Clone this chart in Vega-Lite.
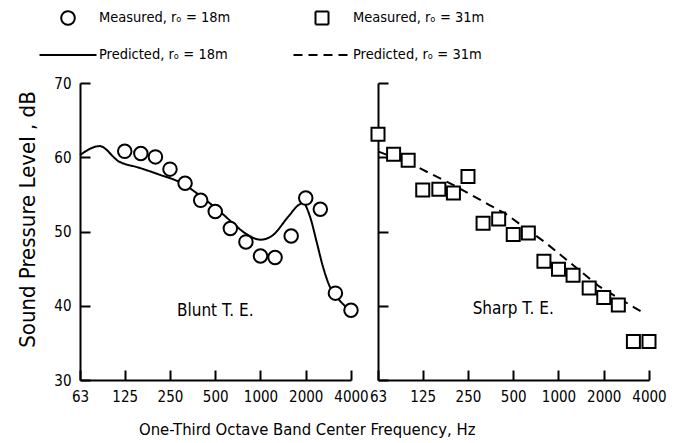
{
  "$schema": "https://vega.github.io/schema/vega-lite/v6.json",
  "padding": {"left": 16, "top": 7, "right": 10, "bottom": 4},
  "background": "white",
  "config": {
    "font": "DejaVu Sans Condensed, DejaVu Sans, sans-serif",
    "view": {"stroke": null},
    "axis": {
      "grid": false,
      "domainColor": "black",
      "domainWidth": 2,
      "tickColor": "black",
      "tickWidth": 2,
      "tickSize": -10,
      "labelColor": "black",
      "labelFontSize": 15,
      "labelPadding": 19,
      "titleColor": "black",
      "titleFontWeight": "normal",
      "labelFont": "DejaVu Sans Condensed, DejaVu Sans, sans-serif",
      "titleFont": "DejaVu Sans Condensed, DejaVu Sans, sans-serif"
    },
    "legend": {
      "orient": "none",
      "title": null,
      "symbolSize": 400,
      "symbolStrokeWidth": 2,
      "labelFontSize": 14.5,
      "labelColor": "black",
      "labelFont": "DejaVu Sans Condensed, DejaVu Sans, sans-serif",
      "rowPadding": 15,
      "columns": 1,
      "labelOffset": 20,
      "padding": 0
    },
    "text": {"color": "black"}
  },
  "title": {
    "text": "One-Third Octave Band Center Frequency, Hz",
    "orient": "bottom",
    "anchor": "start",
    "frame": "group",
    "dx": 59,
    "offset": 18,
    "fontSize": 16.5,
    "fontWeight": "normal",
    "color": "black",
    "font": "DejaVu Sans Condensed, DejaVu Sans, sans-serif"
  },
  "datasets": {
    "bluntMeasured": [
      {"freq": 125, "spl": 60.8, "series": "Measured,  rₒ = 18m"},
      {"freq": 160, "spl": 60.5, "series": "Measured,  rₒ = 18m"},
      {"freq": 200, "spl": 60.05, "series": "Measured,  rₒ = 18m"},
      {"freq": 250, "spl": 58.4, "series": "Measured,  rₒ = 18m"},
      {"freq": 315, "spl": 56.5, "series": "Measured,  rₒ = 18m"},
      {"freq": 400, "spl": 54.2, "series": "Measured,  rₒ = 18m"},
      {"freq": 500, "spl": 52.7, "series": "Measured,  rₒ = 18m"},
      {"freq": 630, "spl": 50.4, "series": "Measured,  rₒ = 18m"},
      {"freq": 800, "spl": 48.6, "series": "Measured,  rₒ = 18m"},
      {"freq": 1000, "spl": 46.7, "series": "Measured,  rₒ = 18m"},
      {"freq": 1250, "spl": 46.5, "series": "Measured,  rₒ = 18m"},
      {"freq": 1600, "spl": 49.4, "series": "Measured,  rₒ = 18m"},
      {"freq": 2000, "spl": 54.5, "series": "Measured,  rₒ = 18m"},
      {"freq": 2500, "spl": 53.0, "series": "Measured,  rₒ = 18m"},
      {"freq": 3150, "spl": 41.7, "series": "Measured,  rₒ = 18m"},
      {"freq": 4000, "spl": 39.4, "series": "Measured,  rₒ = 18m"}
    ],
    "bluntPredicted": [
      {"freq": 63, "spl": 60.3, "series": "Predicted,  rₒ = 18m"},
      {"freq": 85, "spl": 61.5, "series": "Predicted,  rₒ = 18m"},
      {"freq": 114, "spl": 59.45, "series": "Predicted,  rₒ = 18m"},
      {"freq": 155, "spl": 58.6, "series": "Predicted,  rₒ = 18m"},
      {"freq": 210, "spl": 57.7, "series": "Predicted,  rₒ = 18m"},
      {"freq": 300, "spl": 56.5, "series": "Predicted,  rₒ = 18m"},
      {"freq": 410, "spl": 54.6, "series": "Predicted,  rₒ = 18m"},
      {"freq": 515, "spl": 53.0, "series": "Predicted,  rₒ = 18m"},
      {"freq": 650, "spl": 51.2, "series": "Predicted,  rₒ = 18m"},
      {"freq": 813, "spl": 49.6, "series": "Predicted,  rₒ = 18m"},
      {"freq": 1000, "spl": 48.9, "series": "Predicted,  rₒ = 18m"},
      {"freq": 1190, "spl": 49.4, "series": "Predicted,  rₒ = 18m"},
      {"freq": 1530, "spl": 52.0, "series": "Predicted,  rₒ = 18m"},
      {"freq": 1800, "spl": 53.6, "series": "Predicted,  rₒ = 18m"},
      {"freq": 1920, "spl": 53.85, "series": "Predicted,  rₒ = 18m"},
      {"freq": 2135, "spl": 52.0, "series": "Predicted,  rₒ = 18m"},
      {"freq": 2370, "spl": 48.5, "series": "Predicted,  rₒ = 18m"},
      {"freq": 2600, "spl": 45.3, "series": "Predicted,  rₒ = 18m"},
      {"freq": 2920, "spl": 42.4, "series": "Predicted,  rₒ = 18m"},
      {"freq": 3150, "spl": 41.4, "series": "Predicted,  rₒ = 18m"},
      {"freq": 4000, "spl": 39.3, "series": "Predicted,  rₒ = 18m"}
    ],
    "sharpMeasured": [
      {"freq": 63, "spl": 63.1, "series": "Measured,  rₒ = 31m"},
      {"freq": 80, "spl": 60.4, "series": "Measured,  rₒ = 31m"},
      {"freq": 100, "spl": 59.6, "series": "Measured,  rₒ = 31m"},
      {"freq": 125, "spl": 55.6, "series": "Measured,  rₒ = 31m"},
      {"freq": 160, "spl": 55.7, "series": "Measured,  rₒ = 31m"},
      {"freq": 200, "spl": 55.2, "series": "Measured,  rₒ = 31m"},
      {"freq": 250, "spl": 57.4, "series": "Measured,  rₒ = 31m"},
      {"freq": 315, "spl": 51.1, "series": "Measured,  rₒ = 31m"},
      {"freq": 400, "spl": 51.7, "series": "Measured,  rₒ = 31m"},
      {"freq": 500, "spl": 49.6, "series": "Measured,  rₒ = 31m"},
      {"freq": 630, "spl": 49.8, "series": "Measured,  rₒ = 31m"},
      {"freq": 800, "spl": 46.0, "series": "Measured,  rₒ = 31m"},
      {"freq": 1000, "spl": 44.9, "series": "Measured,  rₒ = 31m"},
      {"freq": 1250, "spl": 44.1, "series": "Measured,  rₒ = 31m"},
      {"freq": 1600, "spl": 42.4, "series": "Measured,  rₒ = 31m"},
      {"freq": 2000, "spl": 41.1, "series": "Measured,  rₒ = 31m"},
      {"freq": 2500, "spl": 40.1, "series": "Measured,  rₒ = 31m"},
      {"freq": 3150, "spl": 35.2, "series": "Measured,  rₒ = 31m"},
      {"freq": 4000, "spl": 35.2, "series": "Measured,  rₒ = 31m"}
    ],
    "sharpPredicted": [
      {"freq": 63, "spl": 60.8, "series": "Predicted,  rₒ = 31m"},
      {"freq": 112, "spl": 58.8, "series": "Predicted,  rₒ = 31m"},
      {"freq": 207, "spl": 56.1, "series": "Predicted,  rₒ = 31m"},
      {"freq": 345, "spl": 53.6, "series": "Predicted,  rₒ = 31m"},
      {"freq": 444, "spl": 52.4, "series": "Predicted,  rₒ = 31m"},
      {"freq": 819, "spl": 48.5, "series": "Predicted,  rₒ = 31m"},
      {"freq": 1865, "spl": 42.6, "series": "Predicted,  rₒ = 31m"},
      {"freq": 3625, "spl": 39.1, "series": "Predicted,  rₒ = 31m"}
    ],
    "bluntLabel": [{"freq": 500, "spl": 39.3, "label": "Blunt  T. E."}],
    "sharpLabel": [{"freq": 500, "spl": 39.6, "label": "Sharp  T. E."}]
  },
  "spacing": 27,
  "bounds": "flush",
  "resolve": {"scale": {"shape": "independent", "strokeDash": "independent"}, "legend": {"shape": "independent", "strokeDash": "independent"}},
  "hconcat": [
    {
      "width": 271,
      "height": 297,
      "layer": [
        {
          "data": {"name": "bluntPredicted"},
          "mark": {"type": "line", "color": "black", "strokeWidth": 2, "interpolate": "monotone"},
          "encoding": {
            "x": {"field": "freq", "type": "quantitative", "scale": {"type": "log", "domain": [63, 4000], "nice": false},
              "axis": {"values": [63, 125, 250, 500, 1000, 2000, 4000], "format": "d", "title": null, "labelFlush": false, "labelOverlap": false, "labelBound": false}},
            "y": {"field": "spl", "type": "quantitative", "scale": {"domain": [30, 70], "nice": false, "zero": false},
              "axis": {"values": [30, 40, 50, 60, 70], "title": "Sound Pressure Level , dB", "titleFontSize": 22, "titlePadding": 14, "titleY": 136}},
            "strokeDash": {"field": "series", "type": "nominal",
              "scale": {"domain": ["Measured,  rₒ = 18m", "Predicted,  rₒ = 18m"], "range": [[1, 0], [1, 0]]},
              "legend": {"legendX": -23, "legendY": -76}}
          }
        },
        {
          "data": {"name": "bluntMeasured"},
          "mark": {"type": "point", "fill": "white", "stroke": "black", "strokeWidth": 2, "opacity": 1, "size": 400},
          "encoding": {
            "x": {"field": "freq", "type": "quantitative"},
            "y": {"field": "spl", "type": "quantitative"},
            "shape": {"field": "series", "type": "nominal",
              "scale": {"domain": ["Measured,  rₒ = 18m", "Predicted,  rₒ = 18m"],
                "range": ["M0.675,0A0.675,0.675,0,1,1,-0.675,0A0.675,0.675,0,1,1,0.675,0Z", "M-2.85,0H2.85"]},
              "legend": {"legendX": -23, "legendY": -76}}
          }
        },
        {
          "data": {"name": "bluntLabel"},
          "mark": {"type": "text", "fontSize": 17, "align": "center", "baseline": "middle"},
          "encoding": {
            "x": {"field": "freq", "type": "quantitative"},
            "y": {"field": "spl", "type": "quantitative"},
            "text": {"field": "label"}
          }
        }
      ]
    },
    {
      "width": 271,
      "height": 297,
      "layer": [
        {
          "data": {"name": "sharpPredicted"},
          "mark": {"type": "line", "color": "black", "strokeWidth": 2},
          "encoding": {
            "x": {"field": "freq", "type": "quantitative", "scale": {"type": "log", "domain": [63, 4000], "nice": false},
              "axis": {"values": [63, 125, 250, 500, 1000, 2000, 4000], "format": "d", "title": null, "labelFlush": false, "labelOverlap": false, "labelBound": false}},
            "y": {"field": "spl", "type": "quantitative", "scale": {"domain": [30, 70], "nice": false, "zero": false},
              "axis": {"values": [30, 40, 50, 60, 70], "title": null, "labels": false}},
            "strokeDash": {"field": "series", "type": "nominal",
              "scale": {"domain": ["Measured,  rₒ = 31m", "Predicted,  rₒ = 31m"], "range": [[1, 0], [9, 6]]},
              "legend": {"legendX": -67, "legendY": -76}}
          }
        },
        {
          "data": {"name": "sharpMeasured"},
          "mark": {"type": "point", "fill": "white", "stroke": "black", "strokeWidth": 2, "opacity": 1, "size": 400},
          "encoding": {
            "x": {"field": "freq", "type": "quantitative"},
            "y": {"field": "spl", "type": "quantitative"},
            "shape": {"field": "series", "type": "nominal",
              "scale": {"domain": ["Measured,  rₒ = 31m", "Predicted,  rₒ = 31m"],
                "range": ["M-0.65,-0.65H0.65V0.65H-0.65Z", "M-2.85,0H2.85"]},
              "legend": {"legendX": -67, "legendY": -76}}
          }
        },
        {
          "data": {"name": "sharpLabel"},
          "mark": {"type": "text", "fontSize": 17, "align": "center", "baseline": "middle"},
          "encoding": {
            "x": {"field": "freq", "type": "quantitative"},
            "y": {"field": "spl", "type": "quantitative"},
            "text": {"field": "label"}
          }
        }
      ]
    }
  ]
}
